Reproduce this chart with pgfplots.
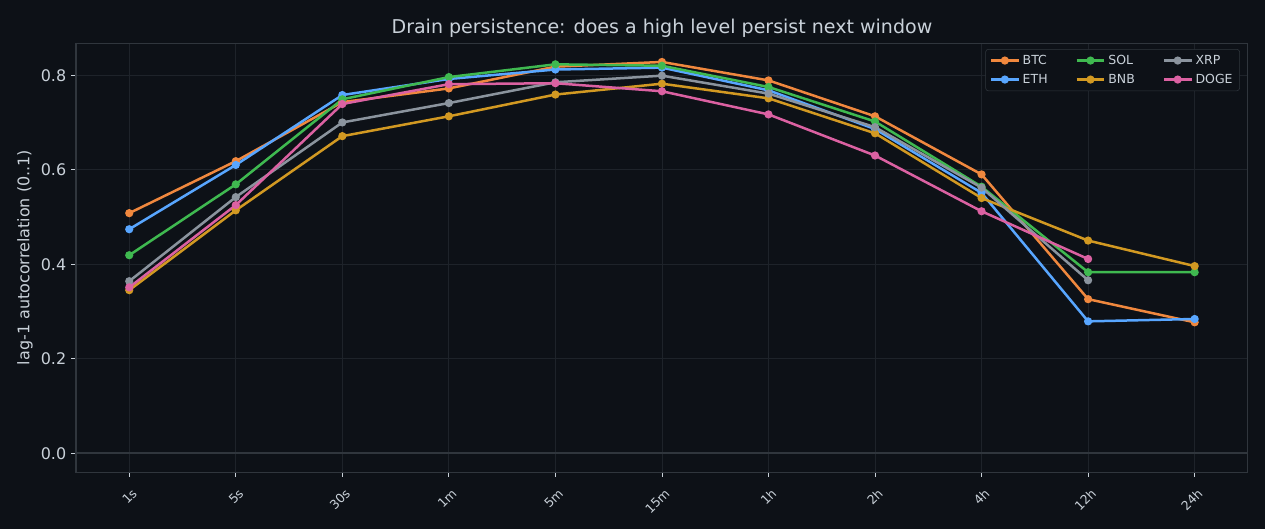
\documentclass[border=0pt]{standalone}
\usepackage{pgfplots}
\pgfplotsset{compat=1.18}
\usepackage{fontspec}
\setmainfont{DejaVu Sans}
\definecolor{bg}{HTML}{0D1117}
\definecolor{gridc}{HTML}{1E232A}
\definecolor{framec}{HTML}{30363D}
\definecolor{txt}{HTML}{C9D1D9}
\definecolor{cbtc}{HTML}{F0883E}
\definecolor{ceth}{HTML}{58A6FF}
\definecolor{csol}{HTML}{3FB950}
\definecolor{cbnb}{HTML}{D29922}
\definecolor{cxrp}{HTML}{8B949E}
\definecolor{cdoge}{HTML}{DB61A2}
\begin{document}
\begin{tikzpicture}
\path[use as bounding box, fill=bg] (-54.7pt,-41.1pt) rectangle (856.1pt,339.9pt);
\begin{axis}[
  scale only axis, width=843.8pt, height=308.9pt,
  at={(0,0)}, anchor=south west,
  xmin=-0.5, xmax=10.5, ymin=-0.04, ymax=0.868,
  xtick={0,1,2,3,4,5,6,7,8,9,10},
  xticklabels={1s,5s,30s,1m,5m,15m,1h,2h,4h,12h,24h},
  ytick={0,0.2,0.4,0.6,0.8},
  yticklabel style={/pgf/number format/fixed, /pgf/number format/fixed zerofill, /pgf/number format/precision=1, font=\fontsize{11.5}{13}\selectfont, color=txt},
  /pgf/number format/assume math mode=true,
  xtick pos=lower, ytick pos=left,
  tick align=outside, major tick length=3.5pt,
  tick style={color=txt, line width=0.6pt},
  axis line style={color=framec, line width=0.8pt},
  grid=major, grid style={color=gridc, line width=0.6pt},
  xticklabel style={font=\fontsize{9}{11}\selectfont, color=txt, xshift=1.5pt, yshift=-7pt, rotate=45, anchor=north east, inner sep=0.5pt},
  title={Drain persistence: does a high level persist next window},
  title style={font=\fontsize{13.7}{16}\selectfont, color=txt, at={(0.5,1)}, anchor=center, yshift=4.6pt},
  ylabel={lag-1 autocorrelation (0..1)},
  every axis y label/.style={at={(axis description cs:0,0.5)}, xshift=-36.7pt, rotate=90, anchor=center, font=\fontsize{11.5}{13}\selectfont, color=txt},
  legend cell align=left,
  legend style={at={(1,1)}, anchor=north east, xshift=-5.8pt, yshift=-4.3pt,
    fill=bg, draw=framec, rounded corners=2pt, text=txt,
    font=\fontsize{9}{11}\selectfont, row sep=1.5pt,
    /tikz/every even column/.append style={column sep=18pt}},
  legend columns=3,
  legend image code/.code={\draw[mark repeat=2,mark phase=2] plot coordinates {(0cm,0cm) (0.35cm,0cm) (0.7cm,0cm)};},
  every axis plot/.append style={line width=1.8pt, mark=*, mark size=2pt, mark options={solid}},
]
\addplot[color=framec, line width=1.1pt, mark=none, forget plot] coordinates {(-0.5,0) (10.5,0)};
\addplot[cbtc, forget plot] coordinates {(0,0.508) (1,0.618) (2,0.743) (3,0.772) (4,0.818) (5,0.828) (6,0.789) (7,0.713) (8,0.590) (9,0.326) (10,0.277)};
\addplot[ceth, forget plot] coordinates {(0,0.474) (1,0.610) (2,0.758) (3,0.792) (4,0.812) (5,0.816) (6,0.768) (7,0.686) (8,0.551) (9,0.279) (10,0.284)};
\addplot[csol, forget plot] coordinates {(0,0.419) (1,0.569) (2,0.749) (3,0.796) (4,0.823) (5,0.820) (6,0.775) (7,0.702) (8,0.564) (9,0.383) (10,0.383)};
\addplot[cbnb, forget plot] coordinates {(0,0.345) (1,0.514) (2,0.671) (3,0.713) (4,0.759) (5,0.782) (6,0.751) (7,0.677) (8,0.540) (9,0.450) (10,0.396)};
\addplot[cxrp, forget plot] coordinates {(0,0.364) (1,0.542) (2,0.700) (3,0.741) (4,0.785) (5,0.799) (6,0.761) (7,0.690) (8,0.562) (9,0.366)};
\addplot[cdoge, forget plot] coordinates {(0,0.351) (1,0.525) (2,0.739) (3,0.781) (4,0.783) (5,0.766) (6,0.717) (7,0.630) (8,0.512) (9,0.411)};
\addlegendimage{cbtc, line width=1.8pt, mark=*, mark size=2pt}
\addlegendentry{BTC}
\addlegendimage{csol, line width=1.8pt, mark=*, mark size=2pt}
\addlegendentry{SOL}
\addlegendimage{cxrp, line width=1.8pt, mark=*, mark size=2pt}
\addlegendentry{XRP}
\addlegendimage{ceth, line width=1.8pt, mark=*, mark size=2pt}
\addlegendentry{ETH}
\addlegendimage{cbnb, line width=1.8pt, mark=*, mark size=2pt}
\addlegendentry{BNB}
\addlegendimage{cdoge, line width=1.8pt, mark=*, mark size=2pt}
\addlegendentry{DOGE}
\end{axis}
\end{tikzpicture}
\end{document}
